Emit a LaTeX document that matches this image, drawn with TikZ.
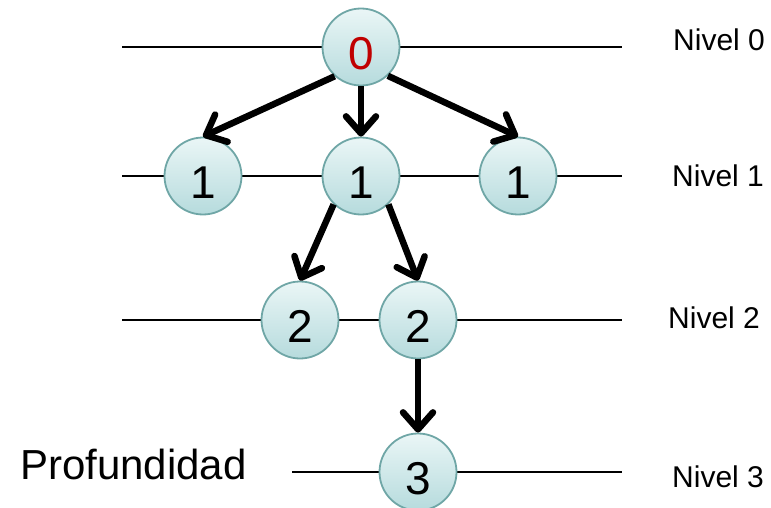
\documentclass[tikz,border=0pt]{standalone}
\usepackage{fontspec}
\setmainfont{Liberation Sans}
\usetikzlibrary{arrows.meta}
\definecolor{cTop}{HTML}{EAF6F6}
\definecolor{cBot}{HTML}{B6DBDD}
\definecolor{cEdge}{HTML}{6FA6A6}
\definecolor{cRed}{HTML}{C00000}
\begin{document}
\begin{tikzpicture}[x=1pt,y=-1pt,
  vert/.style={circle, draw=cEdge, line width=1.8pt, top color=cTop, bottom color=cBot,
    minimum size=77pt, inner sep=0pt},
  num/.style={font=\fontsize{46}{46}\selectfont, inner sep=0pt},
  levelline/.style={line width=2pt},
  nivel/.style={font=\fontsize{30}{30}\selectfont, inner sep=0pt, anchor=base west},
  edge/.style={line width=6.5pt, -{Straight Barb[length=17pt,width=30pt,round]}}]
\useasboundingbox (0,0) rectangle (771,508);

% level lines
\coordinate (a0) at (122,47);  \coordinate (b0) at (622,47);
\coordinate (a1) at (122,176); \coordinate (b1) at (622,176);
\coordinate (a2) at (122,320); \coordinate (b2) at (622,320);
\coordinate (a3) at (292,472); \coordinate (b3) at (622,472);
\draw[levelline] (a0) -- (b0);
\draw[levelline] (a1) -- (b1);
\draw[levelline] (a2) -- (b2);
\draw[levelline] (a3) -- (b3);

% vertices
\node[vert] (n0) at (361,47) {};
\node[vert] (l1) at (203,176) {};
\node[vert] (m1) at (361,176) {};
\node[vert] (r1) at (518,176) {};
\node[vert] (l2) at (300,320) {};
\node[vert] (r2) at (418,320) {};
\node[vert] (n3) at (418,472) {};

\node[num, text=cRed] (t0) at ([yshift=-7pt]n0.center) {0};
\node[num] (tl1) at ([yshift=-6.5pt]l1.center) {1};
\node[num] (tm1) at ([yshift=-6.5pt]m1.center) {1};
\node[num] (tr1) at ([yshift=-6.5pt]r1.center) {1};
\node[num] (tl2) at ([yshift=-6.5pt]l2.center) {2};
\node[num] (tr2) at ([yshift=-6.5pt]r2.center) {2};
\node[num] (tn3) at ([yshift=-6.5pt]n3.center) {3};

% edges
\draw[edge] (n0.228) -- (l1.north);
\draw[edge] (n0.south) -- (m1.north);
\draw[edge] (n0.-47) -- (r1.north);
\draw[edge] (m1.226) -- (l2.north);
\draw[edge] (m1.-46) -- (r2.north);
\draw[edge] (r2.south) -- (n3.north);

% labels
\node[nivel] (lv0) at (673,51) {Nivel 0};
\node[nivel] (lv1) at (672,186) {Nivel 1};
\node[nivel] (lv2) at (668,328) {Nivel 2};
\node[nivel] (lv3) at (672,487) {Nivel 3};
\node[inner sep=0pt, anchor=base west, font=\fontsize{42}{42}\selectfont] (prof) at (20,479) {Profundidad};
\end{tikzpicture}
\end{document}
